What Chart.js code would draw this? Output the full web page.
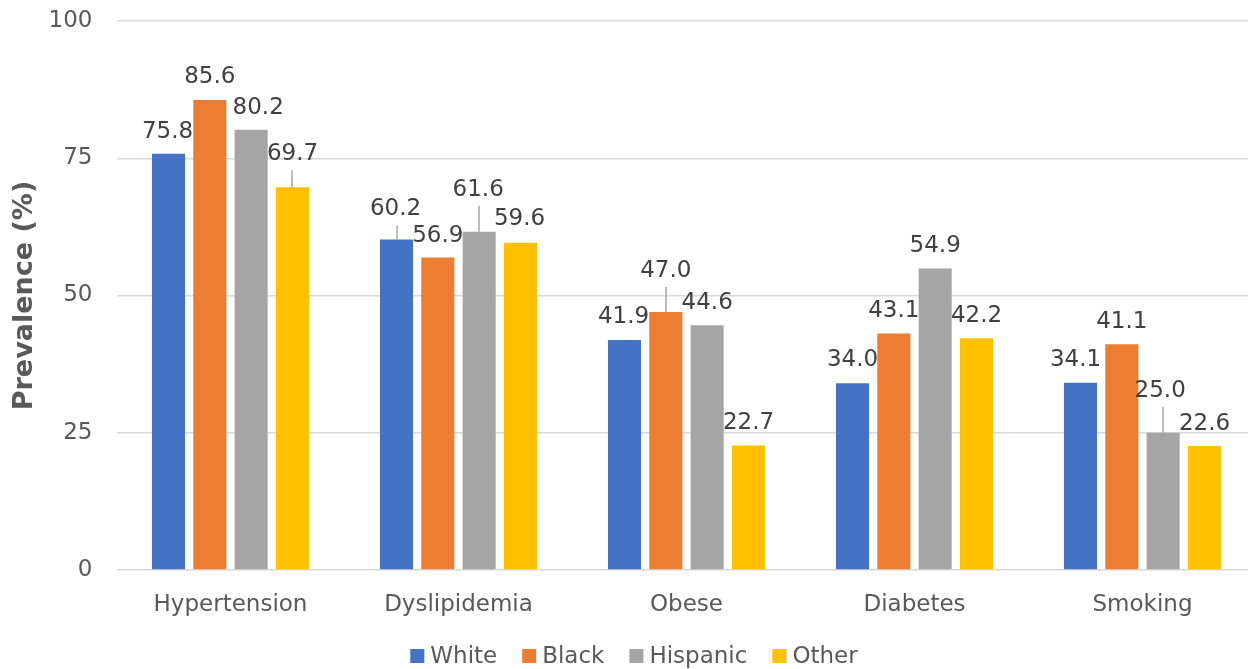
<!DOCTYPE html>
<html>
<head>
<meta charset="utf-8">
<script src="https://cdn.jsdelivr.net/npm/chart.js@4.4.1/dist/chart.umd.min.js"></script>
<style>
    html, body { margin: 0; padding: 0; background: #fff; overflow: hidden; }
    #wrap { width: 1248px; height: 669px; overflow: hidden; }
    #wrap canvas { display: block; }
</style>
</head>
<body>
<div id="wrap"><canvas id="prevChart" width="1260" height="669"></canvas></div>
<script>
// Data
const categories = ['Hypertension', 'Dyslipidemia', 'Obese', 'Diabetes', 'Smoking'];
const seriesNames = ['White', 'Black', 'Hispanic', 'Other'];
const white = [75.8, 60.2, 41.9, 34.0, 34.1];
const black = [85.6, 56.9, 47.0, 43.1, 41.1];
const hispanic = [80.2, 61.6, 44.6, 54.9, 25.0];
const other = [69.7, 59.6, 22.7, 42.2, 22.6];
const yTicks = [0, 25, 50, 75, 100];

// Styling
const colors = ['#4472C4', '#ED7D31', '#A5A5A5', '#FFC000'];
const FONT = '"DejaVu Sans", Verdana, sans-serif';

// Hand-placed label nudges (px) per series, and which labels get a leader line
const labelShiftX = [
    [-1, -1, -1, 0, -5],
    [0, 0, 0, 0, 0],
    [7, -1, 0, 0, -3],
    [0, -1, 0, 0, 0]
];
const labelShiftY = [
    [0, -8, -1, -1, -1],
    [-1, 0, -19, 0, 0],
    [0, -20, 0, -1, -20],
    [-11, -2, 0, 0, 0]
];
const leaders = [
    [0, 1, 0, 0, 0],
    [0, 0, 1, 0, 0],
    [0, 1, 0, 0, 1],
    [1, 0, 0, 0, 0]
];

// Data labels drawn above each bar
const barLabels = {
    id: 'barLabels',
    afterDatasetsDraw(chart) {
        const ctx = chart.ctx;
        ctx.save();
        ctx.font = '23px ' + FONT;
        ctx.textAlign = 'center';
        ctx.textBaseline = 'middle';
        chart.data.datasets.forEach((ds, di) => {
            const meta = chart.getDatasetMeta(di);
            meta.data.forEach((bar, i) => {
                const x = bar.x + labelShiftX[di][i];
                const y = bar.y - 22 + labelShiftY[di][i];
                if (leaders[di][i]) {
                    ctx.strokeStyle = '#A6A6A6';
                    ctx.lineWidth = 1.5;
                    ctx.beginPath();
                    ctx.moveTo(Math.round(bar.x), y + 16);
                    ctx.lineTo(Math.round(bar.x), bar.y);
                    ctx.stroke();
                }
                ctx.fillStyle = '#404040';
                ctx.fillText(ds.data[i].toFixed(1), x, y);
            });
        });
        ctx.restore();
    }
};

// Legend with small squares, centred under the plot
const squareLegend = {
    id: 'squareLegend',
    afterDraw(chart) {
        const ctx = chart.ctx;
        ctx.save();
        ctx.font = '23px ' + FONT;
        ctx.textBaseline = 'middle';
        const box = 14, gap = 6, spacing = 25;
        const widths = seriesNames.map(n => box + gap + ctx.measureText(n).width);
        const total = widths.reduce((a, b) => a + b, 0) + spacing * (seriesNames.length - 1);
        let x = 634 - total / 2;
        const y = 656;
        seriesNames.forEach((n, i) => {
            ctx.fillStyle = colors[i];
            ctx.fillRect(x, y - box / 2, box, box);
            ctx.fillStyle = '#595959';
            ctx.fillText(n, x + box + gap, y + 1);
            x += widths[i] + spacing;
        });
        ctx.restore();
    }
};

const seriesData = [white, black, hispanic, other];

const ctx = document.getElementById('prevChart').getContext('2d');
const prevChart = new Chart(ctx, {
    type: 'bar',
    data: {
        labels: categories,
        datasets: seriesNames.map((name, i) => ({
            label: name,
            data: seriesData[i],
            backgroundColor: colors[i],
            borderWidth: 0,
            categoryPercentage: 0.725,
            barPercentage: 0.8
        }))
    },
    options: {
        responsive: false,
        animation: false,
        layout: {
            padding: { top: 21, right: 3.5, bottom: 39, left: 0 }
        },
        plugins: {
            legend: { display: false },
            tooltip: { enabled: false }
        },
        scales: {
            x: {
                grid: { display: false },
                border: { display: false },
                ticks: {
                    color: '#595959',
                    font: { family: FONT, size: 23 },
                    padding: 13,
                    maxRotation: 0
                },
                afterFit(scale) {
                    scale.height = 60;
                    scale.paddingLeft = 0;
                    scale.paddingRight = 0;
                }
            },
            y: {
                min: 0,
                max: 100,
                afterBuildTicks(scale) {
                    scale.ticks = yTicks.map(v => ({ value: v }));
                },
                grid: {
                    color: '#D9D9D9',
                    lineWidth: 1.5,
                    drawTicks: false
                },
                border: { display: false },
                ticks: {
                    color: '#595959',
                    font: { family: FONT, size: 23 },
                    padding: 24
                },
                title: {
                    display: true,
                    text: 'Prevalence (%)',
                    color: '#595959',
                    font: { family: FONT, size: 27, weight: 'bold' },
                    padding: { top: 9, bottom: 0 }
                },
                afterFit(scale) {
                    scale.width = 116.5;
                    scale.paddingTop = 0;
                    scale.paddingBottom = 0;
                }
            }
        }
    },
    plugins: [barLabels, squareLegend]
});
</script>
</body>
</html>
